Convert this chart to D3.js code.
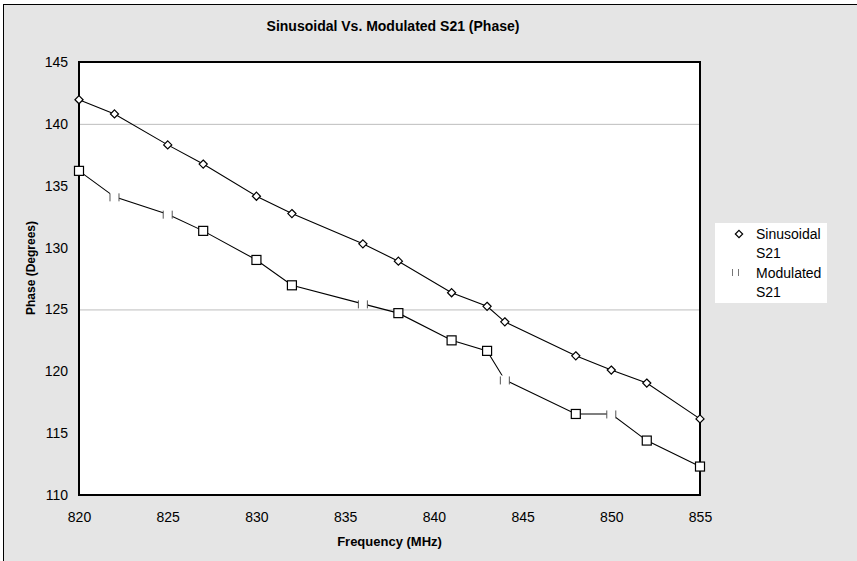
<!DOCTYPE html>
<html>
<head>
<meta charset="utf-8">
<script src="https://cdn.jsdelivr.net/npm/d3@7"></script>
<style>
  body { margin: 0; background: #fff; }
  svg { display: block; font-family: "Liberation Sans", Arial, sans-serif; }
</style>
</head>
<body>
<div id="chart"></div>
<script>
// chart data
var freqs = [820, 822, 825, 827, 830, 832, 836, 838, 841, 843, 844, 848, 850, 852, 855];
var sinusoidal = [141.95, 140.8, 138.3, 136.75, 134.15, 132.75, 130.3, 128.9, 126.35, 125.25, 124.0, 121.25, 120.1, 119.05, 116.15];
var modulated = [136.2, 134.1, 132.7, 131.35, 129.0, 126.95, 125.45, 124.7, 122.5, 121.65, 119.3, 116.55, 116.55, 114.4, 112.3];
var yTicks = [110, 115, 120, 125, 130, 135, 140, 145];
var xTicks = [820, 825, 830, 835, 840, 845, 850, 855];
var gridTicks = [125, 140];
// modulated points whose square renders faint ("I I") in the original
var faintPoints = [822, 825, 836, 844, 850];

var W = 857, H = 561;
var plot = {left: 79, right: 700, top: 62, bottom: 495};

var svg = d3.select("#chart").append("svg")
    .attr("width", W)
    .attr("height", H);

// outer chart frame
svg.append("rect")
    .attr("x", 3.5).attr("y", 4.5)
    .attr("width", W + 10).attr("height", H + 10)
    .attr("fill", "#e5e5e5")
    .attr("stroke", "#000").attr("stroke-width", 1);

var x = d3.scaleLinear().domain([820, 855]).range([plot.left, plot.right]);
var y = d3.scaleLinear().domain([110, 145]).range([plot.bottom, plot.top]);

// plot area
svg.append("rect")
    .attr("x", plot.left).attr("y", plot.top)
    .attr("width", plot.right - plot.left).attr("height", plot.bottom - plot.top)
    .attr("fill", "#fff");

// gridlines
svg.append("g")
    .attr("transform", "translate(" + plot.left + ",0)")
    .call(d3.axisLeft(y).tickValues(gridTicks).tickSize(-(plot.right - plot.left)).tickFormat(""))
    .call(function(g) {
        g.select(".domain").remove();
        g.selectAll("line").attr("stroke", "#bdbdbd");
    });

// y axis labels
svg.append("g")
    .attr("transform", "translate(" + plot.left + ",0)")
    .call(d3.axisLeft(y).tickValues(yTicks).tickSize(0).tickPadding(11))
    .call(function(g) {
        g.select(".domain").remove();
        g.selectAll("text").attr("font-size", 14).attr("fill", "#000")
            .style("font-family", "'Liberation Sans', Arial, sans-serif");
    });

// x axis labels
svg.append("g")
    .attr("transform", "translate(0," + plot.bottom + ")")
    .call(d3.axisBottom(x).tickValues(xTicks).tickSize(0).tickPadding(17))
    .call(function(g) {
        g.select(".domain").remove();
        g.selectAll("text").attr("font-size", 14).attr("fill", "#000")
            .style("font-family", "'Liberation Sans', Arial, sans-serif");
    });

// plot border
svg.append("rect")
    .attr("x", plot.left).attr("y", plot.top)
    .attr("width", plot.right - plot.left).attr("height", plot.bottom - plot.top)
    .attr("fill", "none")
    .attr("stroke", "#000").attr("stroke-width", 2);

var sinData = freqs.map(function(f, i) { return {f: f, v: sinusoidal[i]}; });
var modData = freqs.map(function(f, i) { return {f: f, v: modulated[i]}; });

var line = d3.line()
    .x(function(d) { return x(d.f); })
    .y(function(d) { return y(d.v); });

svg.append("path")
    .datum(sinData)
    .attr("d", line)
    .attr("fill", "none")
    .attr("stroke", "#000").attr("stroke-width", 1.1);

svg.append("path")
    .datum(modData)
    .attr("d", line)
    .attr("fill", "none")
    .attr("stroke", "#000").attr("stroke-width", 1.1);

// diamonds
svg.append("g").selectAll("path")
    .data(sinData)
    .enter().append("path")
    .attr("d", d3.symbol().type(d3.symbolDiamond2).size(42))
    .attr("transform", function(d) { return "translate(" + x(d.f) + "," + y(d.v) + ")"; })
    .attr("fill", "#fff")
    .attr("stroke", "#000").attr("stroke-width", 1.2);

// squares
var sq = 9;
var mod = svg.append("g").selectAll("g")
    .data(modData)
    .enter().append("g")
    .attr("transform", function(d) { return "translate(" + x(d.f) + "," + y(d.v) + ")"; });

mod.append("rect")
    .attr("x", -sq / 2).attr("y", -sq / 2)
    .attr("width", sq).attr("height", sq)
    .attr("fill", "#fff")
    .attr("stroke", function(d) { return faintPoints.indexOf(d.f) >= 0 ? "none" : "#000"; })
    .attr("stroke-width", 1.2);

var faint = mod.filter(function(d) { return faintPoints.indexOf(d.f) >= 0; });
faint.append("line")
    .attr("x1", -sq / 2).attr("x2", -sq / 2).attr("y1", -sq / 2 + 1).attr("y2", sq / 2)
    .attr("stroke", "#555");
faint.append("line")
    .attr("x1", sq / 2).attr("x2", sq / 2).attr("y1", -sq / 2 + 1).attr("y2", sq / 2)
    .attr("stroke", "#555");

// titles
svg.append("text")
    .attr("x", 393).attr("y", 31)
    .attr("text-anchor", "middle")
    .attr("font-size", 14).attr("font-weight", "bold")
    .text("Sinusoidal Vs. Modulated S21 (Phase)");

svg.append("text")
    .attr("x", (plot.left + plot.right) / 2).attr("y", 546)
    .attr("text-anchor", "middle")
    .attr("font-size", 13).attr("font-weight", "bold")
    .text("Frequency (MHz)");

svg.append("text")
    .attr("transform", "translate(35,268) rotate(-90)")
    .attr("text-anchor", "middle")
    .attr("font-size", 12).attr("font-weight", "bold")
    .text("Phase (Degrees)");

// legend
var legend = svg.append("g").attr("transform", "translate(715,223)");
legend.append("rect")
    .attr("width", 112).attr("height", 80)
    .attr("fill", "#fff");

legend.append("path")
    .attr("d", d3.symbol().type(d3.symbolDiamond2).size(34))
    .attr("transform", "translate(24,11)")
    .attr("fill", "#fff")
    .attr("stroke", "#000").attr("stroke-width", 1.2);

legend.append("line")
    .attr("x1", 17.5).attr("x2", 17.5).attr("y1", 46).attr("y2", 53)
    .attr("stroke", "#777");
legend.append("line")
    .attr("x1", 23.5).attr("x2", 23.5).attr("y1", 46).attr("y2", 53)
    .attr("stroke", "#777");

var legendText = [["Sinusoidal", "S21"], ["Modulated", "S21"]];
legendText.forEach(function(lines, i) {
    lines.forEach(function(t, j) {
        legend.append("text")
            .attr("x", 41).attr("y", 16 + i * 39 + j * 19)
            .attr("font-size", 14)
            .text(t);
    });
});
</script>
</body>
</html>
